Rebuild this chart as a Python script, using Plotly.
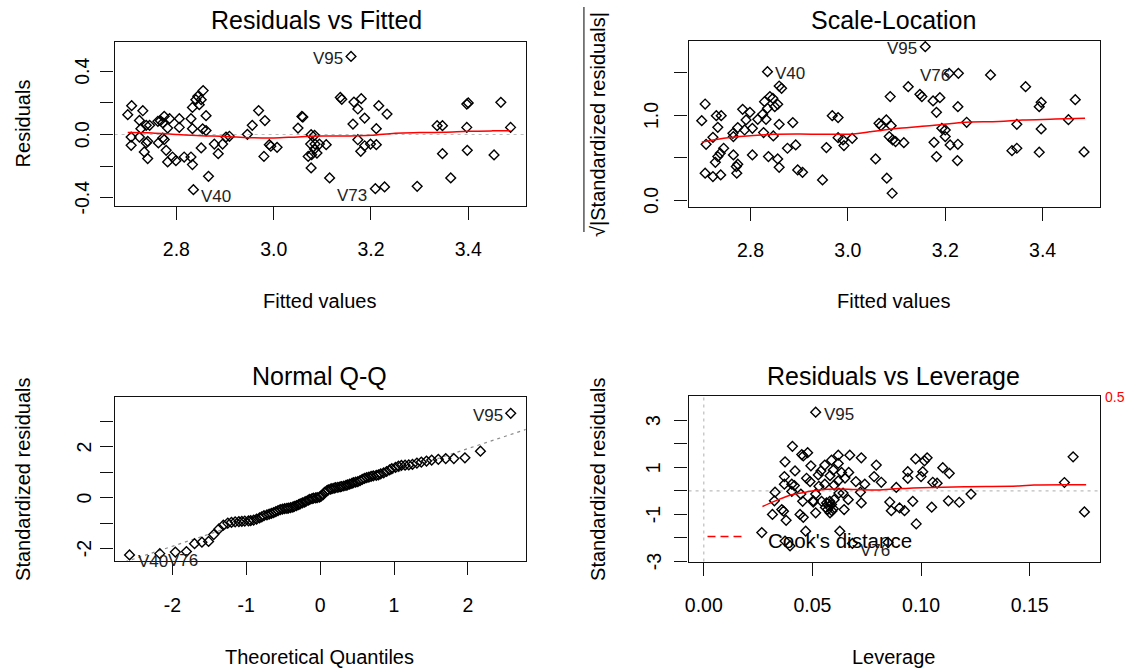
import plotly.graph_objects as go

W, H = 1134, 670
FONT = "Liberation Sans, Arial, sans-serif"

# ---------------- Residuals vs Fitted ----------------
rvf_fitted = [2.708, 2.700, 2.731, 2.724, 2.707, 2.707, 2.724, 2.727, 2.738, 2.745,
              2.741, 2.734, 2.741, 2.738, 2.762, 2.767, 2.775, 2.772, 2.786, 2.782,
              2.772, 2.775, 2.763, 2.779, 2.782, 2.792, 2.799, 2.806, 2.806, 2.816,
              2.830, 2.833, 2.830, 2.833, 2.833, 2.840, 2.844, 2.851, 2.847, 2.855,
              2.861, 2.854, 2.861, 2.851, 2.866, 2.835, 2.878, 2.886, 2.895, 2.902,
              2.909, 2.946, 2.956, 2.969, 2.982, 2.991, 2.994, 3.007, 2.980,
              3.159, 3.050, 3.058, 3.060, 3.077, 3.084, 3.076, 3.085, 3.094, 3.084,
              3.078, 3.089, 3.108, 3.071, 3.077, 3.115, 3.137, 3.140, 3.165, 3.180,
              3.173, 3.187, 3.163, 3.173, 3.179, 3.187, 3.199, 3.211, 3.211, 3.216,
              3.233, 3.209, 3.228, 3.295, 3.336, 3.347, 3.347, 3.364, 3.397, 3.400,
              3.397, 3.398, 3.453, 3.467, 3.487]
rvf_resid = [0.182, 0.125, 0.150, 0.089, -0.016, -0.068, -0.016, 0.037, 0.058, 0.058,
             -0.043, -0.110, -0.152, -0.053, 0.083, 0.087, 0.115, 0.073, 0.100, 0.041,
             -0.022, -0.032, -0.053, -0.100, -0.173, -0.142, -0.165, 0.100, 0.045, -0.142,
             0.100, 0.037, -0.142, -0.190, 0.171, 0.220, 0.241, 0.220, 0.188, 0.277,
             0.119, 0.036, 0.025, -0.085, -0.264, -0.348, -0.060, -0.121, -0.060, -0.016,
             -0.011, 0.001, 0.058, 0.151, 0.088, -0.064, -0.074, -0.081, -0.138,
             0.493, 0.041, 0.114, 0.110, -0.001, -0.005, -0.060, -0.060, -0.060, -0.092,
             -0.127, -0.117, -0.064, -0.138, -0.211, -0.274, 0.234, 0.222, 0.205, 0.226,
             0.161, 0.104, 0.066, -0.033, -0.106, -0.071, -0.060, -0.064, 0.037, 0.182,
             0.129, -0.342, -0.331, -0.327, 0.056, 0.056, -0.121, -0.274, 0.192, 0.199,
             0.045, -0.100, -0.129, 0.203, 0.045]
rvf_smooth_x = [2.700, 2.750, 2.800, 2.850, 2.900, 2.950, 3.000, 3.050, 3.100, 3.150,
                3.200, 3.250, 3.300, 3.350, 3.400, 3.450, 3.487]
rvf_smooth_y = [0.012, 0.010, 0.000, -0.008, -0.012, -0.020, -0.022, -0.015, -0.010, -0.009,
                -0.005, 0.008, 0.012, 0.014, 0.020, 0.023, 0.024]
rvf_ids = [("V95", 3.159, 0.493), ("V40", 2.835, -0.348), ("V73", 3.209, -0.342)]

# ---------------- Scale-Location ----------------
sl_fitted = [2.835, 2.707, 2.700, 2.730, 2.740, 2.733, 2.723, 2.709, 2.745, 2.738,
             2.733, 2.728, 2.707, 2.723, 2.739, 2.765, 2.764, 2.774, 2.784, 2.799,
             2.791, 2.788, 2.804, 2.765, 2.774, 2.771, 2.772, 2.804, 2.815, 2.825,
             2.829, 2.835, 2.840, 2.846, 2.850, 2.856, 2.859, 2.864, 2.832, 2.827,
             2.847, 2.859, 2.837, 2.856, 2.859, 2.876, 2.887, 2.893, 2.897, 2.907,
             2.948, 2.956, 2.968, 2.980, 2.980, 2.990, 2.992, 3.009,
             3.057, 3.080, 3.091, 3.087, 3.124, 3.148, 3.152, 3.175, 3.189, 3.182,
             3.226, 3.244, 3.064, 3.068, 3.079, 3.089, 3.085, 3.092, 3.098, 3.115,
             3.177, 3.193, 3.200, 3.200, 3.210, 3.226, 3.182, 3.225, 3.159, 3.208,
             3.227, 3.293, 3.365, 3.397, 3.393, 3.347, 3.397, 3.337, 3.347, 3.393,
             3.467, 3.453, 3.485]
sl_sqrt_std = [1.514, 1.133, 0.937, 0.996, 0.996, 0.859, 0.741, 0.659, 0.612, 0.553,
               0.514, 0.447, 0.318, 0.278, 0.298, 0.749, 0.788, 0.855, 1.071, 1.035,
               0.945, 0.827, 0.847, 0.533, 0.424, 0.396, 0.318, 0.533, 0.953, 1.012,
               1.161, 1.082, 1.220, 1.200, 1.102, 1.129, 1.345, 1.318, 0.953, 0.796,
               0.757, 0.894, 0.514, 0.486, 0.388, 0.612, 0.914, 0.651, 0.357, 0.329,
               0.239, 0.620, 0.996, 0.973, 0.737, 0.710, 0.643, 0.729,
               0.486, 0.259, 0.082, 1.220, 1.337, 1.247, 1.220, 1.169, 1.208, 1.035,
               1.102, 0.918, 0.906, 0.878, 0.945, 0.878, 0.749, 0.710, 0.690, 0.678,
               0.682, 0.847, 0.827, 0.749, 0.651, 0.659, 0.514, 0.467, 1.808, 1.494,
               1.494, 1.475, 1.337, 1.153, 1.102, 0.894, 0.839, 0.584, 0.612, 0.565,
               1.184, 0.949, 0.569]
sl_smooth_x = [2.700, 2.745, 2.800, 2.847, 2.902, 2.949, 3.011, 3.045, 3.105, 3.173,
               3.235, 3.310, 3.358, 3.426, 3.487]
sl_smooth_y = [0.684, 0.731, 0.760, 0.776, 0.779, 0.776, 0.780, 0.806, 0.847, 0.880,
               0.916, 0.927, 0.944, 0.955, 0.966]
sl_ids = [("V95", 3.159, 1.808), ("V40", 2.835, 1.514), ("V76", 3.227, 1.494)]

# ---------------- Normal Q-Q ----------------
qq_theoretical = [-2.58, -2.17, -1.96, -1.81, -1.70, -1.60, -1.51, -1.44, -1.37, -1.31,
                  -1.25, -1.20, -1.15, -1.10, -1.06, -1.02, -0.97, -0.94, -0.90, -0.86,
                  -0.82, -0.79, -0.76, -0.72, -0.69, -0.66, -0.63, -0.60, -0.57, -0.54,
                  -0.51, -0.48, -0.45, -0.43, -0.40, -0.37, -0.35, -0.32, -0.29, -0.27,
                  -0.24, -0.21, -0.19, -0.16, -0.14, -0.11, -0.09, -0.06, -0.04, -0.01,
                  0.01, 0.04, 0.06, 0.09, 0.11, 0.14, 0.16, 0.19, 0.21, 0.24,
                  0.27, 0.29, 0.32, 0.35, 0.37, 0.40, 0.43, 0.45, 0.48, 0.51,
                  0.54, 0.57, 0.60, 0.63, 0.66, 0.69, 0.72, 0.76, 0.79, 0.82,
                  0.86, 0.90, 0.94, 0.97, 1.02, 1.06, 1.10, 1.15, 1.20, 1.25,
                  1.31, 1.37, 1.44, 1.51, 1.60, 1.70, 1.81, 1.96, 2.17, 2.58]
qq_std = [-2.25, -2.20, -2.14, -2.12, -1.81, -1.75, -1.72, -1.45, -1.23, -1.08,
          -1.00, -0.97, -0.95, -0.94, -0.93, -0.92, -0.91, -0.90, -0.88, -0.84,
          -0.79, -0.75, -0.71, -0.68, -0.65, -0.62, -0.59, -0.55, -0.51, -0.47,
          -0.45, -0.43, -0.42, -0.41, -0.39, -0.37, -0.34, -0.31, -0.27, -0.24,
          -0.20, -0.17, -0.14, -0.10, -0.07, -0.04, -0.02, -0.01, 0.00, 0.02,
          0.05, 0.12, 0.21, 0.27, 0.31, 0.34, 0.36, 0.38, 0.40, 0.41,
          0.43, 0.44, 0.46, 0.48, 0.50, 0.53, 0.56, 0.59, 0.61, 0.63,
          0.67, 0.72, 0.76, 0.79, 0.81, 0.84, 0.86, 0.88, 0.90, 0.94,
          0.98, 1.03, 1.09, 1.14, 1.19, 1.24, 1.27, 1.28, 1.29, 1.31,
          1.36, 1.40, 1.44, 1.48, 1.51, 1.54, 1.54, 1.57, 1.83, 3.32]
qq_line_intercept = 0.01
qq_line_slope = 0.96
qq_ids = [("V95", 2.58, 3.32), ("V40", -2.58, -2.25), ("V76", -2.17, -2.20)]

# ---------------- Residuals vs Leverage ----------------
lev_h = [0.0515, 0.0408, 0.0374, 0.0371, 0.0420, 0.0371, 0.0405, 0.0417, 0.0405, 0.0328,
         0.0325, 0.0359, 0.0367, 0.0379, 0.0316, 0.0267, 0.0451, 0.0458, 0.0478, 0.0493,
         0.0473, 0.0489, 0.0447, 0.0455, 0.0443, 0.0458, 0.0469, 0.0504, 0.0515, 0.0527,
         0.0539, 0.0557, 0.0588, 0.0619, 0.0672, 0.0619, 0.0596, 0.0581, 0.0634, 0.0667,
         0.0557, 0.0619, 0.0622, 0.0641, 0.0580, 0.0565, 0.0588, 0.0576, 0.0570, 0.0596,
         0.0581, 0.0600, 0.0542, 0.0515, 0.0504, 0.0646, 0.0665, 0.0725, 0.0721, 0.0725,
         0.0741, 0.0784, 0.0794, 0.0817, 0.0856, 0.0863, 0.0886, 0.0901, 0.0924, 0.0939,
         0.0939, 0.0962, 0.0975, 0.0978, 0.1008, 0.1016, 0.1028, 0.1000, 0.1049, 0.1054,
         0.1074, 0.1100, 0.1126, 0.1130, 0.0626, 0.0374, 0.0397, 0.0848, 0.0684, 0.1176,
         0.1230, 0.1660, 0.1700, 0.1752, 0.0530, 0.0600, 0.0650, 0.0700, 0.0560, 0.0590]
lev_std = [3.35, 1.90, 1.24, 0.61, 0.85, 0.29, 0.29, 0.23, -0.02, -0.05,
           -0.42, -0.79, -0.86, -1.25, -1.00, -1.77, 1.55, 1.49, 1.63, 1.07,
           0.54, 0.40, -0.13, -0.44, -1.00, -1.12, -1.71, -0.42, -0.13, 0.68,
           0.85, 1.10, 1.31, 1.52, 1.52, 1.17, 0.89, 0.65, 0.79, 0.79,
           0.29, 0.43, -0.09, -0.09, -0.44, -0.51, -0.58, -0.65, -0.79, -0.76,
           -0.93, -0.37, -0.44, -0.93, -0.47, -0.79, -0.37, 1.41, -0.05, -0.51,
           0.29, 0.61, 1.10, 0.37, -0.47, -0.84, 0.15, -0.72, -0.84, 0.82,
           0.54, -0.44, 1.36, -1.40, 0.82, 1.28, 1.41, 0.61, -0.69, 0.37,
           0.33, 0.99, -0.42, 0.75, -1.71, -2.13, -2.34, -2.19, -2.23, -0.48,
           -0.13, 0.36, 1.45, -0.89, 0.20, 0.25, 0.55, 0.40, -0.70, -0.85]
lev_smooth_x = [0.027, 0.033, 0.040, 0.047, 0.051, 0.060, 0.070, 0.080, 0.090, 0.105,
                0.120, 0.145, 0.152, 0.176]
lev_smooth_y = [-0.66, -0.42, -0.17, -0.05, 0.02, 0.08, 0.06, 0.04, 0.10, 0.15,
                0.18, 0.21, 0.25, 0.26]
lev_ids = [("V95", 0.0515, 3.35), ("V76", 0.0684, -2.23)]

# y-axis ticks and which of them carry a label
rvf_yticks = [-0.4, -0.2, 0.0, 0.2, 0.4]
rvf_ylabels = ["-0.4", "", "0.0", "", "0.4"]
sl_yticks = [0.0, 0.5, 1.0, 1.5]
sl_ylabels = ["0.0", "", "1.0", ""]
qq_yticks = [-2, -1, 0, 1, 2, 3]
qq_ylabels = ["-2", "", "0", "", "2", ""]
lev_yticks = [-3, -2, -1, 0, 1, 2, 3]
lev_ylabels = ["-3", "", "-1", "", "1", "", "3"]

# ---------------- layout helpers ----------------
def dom_x(left, right):
    return [left / W, right / W]


def dom_y(top, bottom):
    return [1 - bottom / H, 1 - top / H]


def px(x):
    return x / W


def py(y):
    return 1 - y / H


TICK_FONT = dict(family=FONT, size=19.5, color="black")
LAB_FONT = dict(family=FONT, size=20, color="black")
TITLE_FONT = dict(family=FONT, size=25, color="black")
ID_FONT = dict(family=FONT, size=17, color="#222222")


def base_axis(domain, rng, tickvals, ticktext=None, vertical=False):
    ax = dict(domain=domain, range=rng, tickvals=tickvals,
              showline=True, mirror=True, linecolor="#111111", linewidth=1.4,
              ticks="outside", ticklen=13, tickwidth=1.2, tickcolor="#111111",
              showgrid=False, zeroline=False, tickfont=TICK_FONT, fixedrange=True)
    if vertical:
        # vertical labels are placed as rotated annotations further below
        ax["showticklabels"] = False
    else:
        ax["ticktext"] = ticktext
        ax["ticklabelstandoff"] = 13
    return ax


MARKER = dict(symbol="diamond-open", size=7.5, color="black", line=dict(color="black", width=1.4))

fig = go.Figure()

# scatter points and smoothers
fig.add_trace(go.Scatter(x=rvf_fitted, y=rvf_resid, mode="markers", marker=MARKER,
                         xaxis="x", yaxis="y", cliponaxis=False))
fig.add_trace(go.Scatter(x=rvf_smooth_x, y=rvf_smooth_y, mode="lines",
                         line=dict(color="red", width=1.5, shape="spline"), xaxis="x", yaxis="y"))

fig.add_trace(go.Scatter(x=sl_fitted, y=sl_sqrt_std, mode="markers", marker=MARKER,
                         xaxis="x2", yaxis="y2", cliponaxis=False))
fig.add_trace(go.Scatter(x=sl_smooth_x, y=sl_smooth_y, mode="lines",
                         line=dict(color="red", width=1.5, shape="spline"), xaxis="x2", yaxis="y2"))

qq_line_x = [-3.0, 3.0]
qq_line_y = [qq_line_intercept + qq_line_slope * v for v in qq_line_x]
fig.add_trace(go.Scatter(x=qq_line_x, y=qq_line_y, mode="lines",
                         line=dict(color="#8a8a8a", width=1.2, dash="3px,4px"),
                         xaxis="x3", yaxis="y3"))
fig.add_trace(go.Scatter(x=qq_theoretical, y=qq_std, mode="markers", marker=MARKER,
                         xaxis="x3", yaxis="y3", cliponaxis=False))

fig.add_trace(go.Scatter(x=lev_h, y=lev_std, mode="markers", marker=MARKER,
                         xaxis="x4", yaxis="y4", cliponaxis=False))
fig.add_trace(go.Scatter(x=lev_smooth_x, y=lev_smooth_y, mode="lines",
                         line=dict(color="red", width=1.5, shape="spline"), xaxis="x4", yaxis="y4"))

# panel boxes (pixels)
P1 = dict(x=(111, 523.5), y=(41.5, 205.5))
P2 = dict(x=(687, 1099.5), y=(41, 206.5))
P3 = dict(x=(111, 523.5), y=(396.5, 561))
P4 = dict(x=(687, 1099.5), y=(395.5, 561.5))

fig.update_layout(
    width=W, height=H, margin=dict(l=0, r=0, t=0, b=0),
    paper_bgcolor="white", plot_bgcolor="white", showlegend=False,
    xaxis=base_axis(dom_x(*P1["x"]), [2.673, 3.518], [2.8, 3.0, 3.2, 3.4],
                    ["2.8", "3.0", "3.2", "3.4"]),
    yaxis=base_axis(dom_y(*P1["y"]), [-0.448, 0.587], rvf_yticks, vertical=True),
    xaxis2=base_axis(dom_x(*P2["x"]), [2.673, 3.517], [2.8, 3.0, 3.2, 3.4],
                     ["2.8", "3.0", "3.2", "3.4"]),
    yaxis2=base_axis(dom_y(*P2["y"]), [-0.074, 1.875], sl_yticks, vertical=True),
    xaxis3=base_axis(dom_x(*P3["x"]), [-2.782, 2.782], [-2, -1, 0, 1, 2],
                     ["-2", "-1", "0", "1", "2"]),
    yaxis3=base_axis(dom_y(*P3["y"]), [-2.49, 3.98], qq_yticks, vertical=True),
    xaxis4=base_axis(dom_x(*P4["x"]), [-0.007, 0.1822], [0.0, 0.05, 0.10, 0.15],
                     ["0.00", "0.05", "0.10", "0.15"]),
    yaxis4=base_axis(dom_y(*P4["y"]), [-3.0, 4.06], lev_yticks, vertical=True),
)
for i in (1, 2, 3, 4):
    sfx = "" if i == 1 else str(i)
    fig.layout["xaxis" + sfx].anchor = "y" + sfx
    fig.layout["yaxis" + sfx].anchor = "x" + sfx

shapes = []
# zero reference lines
shapes.append(dict(type="line", xref="x domain", yref="y", x0=0, x1=1, y0=0, y1=0,
                   line=dict(color="#bdbdbd", width=1.2, dash="3px,4px"), layer="below"))
shapes.append(dict(type="line", xref="x4 domain", yref="y4", x0=0, x1=1, y0=0, y1=0,
                   line=dict(color="#bdbdbd", width=1.2, dash="3px,4px"), layer="below"))
shapes.append(dict(type="line", xref="x4", yref="y4 domain", x0=0, x1=0, y0=0, y1=1,
                   line=dict(color="#bdbdbd", width=1.2, dash="3px,4px"), layer="below"))
# Cook's distance legend key
shapes.append(dict(type="line", xref="paper", yref="paper", x0=px(706), x1=px(741),
                   y0=py(536.5), y1=py(536.5), line=dict(color="red", width=1.5, dash="8px,5px")))
# radical overbar of the sqrt label
shapes.append(dict(type="line", xref="paper", yref="paper", x0=px(582), x1=px(582),
                   y0=py(7), y1=py(232), line=dict(color="black", width=1)))

ann = []


def add_text(text, x, y, font, angle=0, xanchor="center", yanchor="middle"):
    ann.append(dict(text=text, x=px(x), y=py(y), xref="paper", yref="paper",
                    showarrow=False, font=font, textangle=angle,
                    xanchor=xanchor, yanchor=yanchor))


def add_ytick_labels(ticks, labels, yref, x_center):
    for v, t in zip(ticks, labels):
        if t:
            ann.append(dict(text=t, x=px(x_center), y=v, xref="paper", yref=yref,
                            showarrow=False, font=TICK_FONT, textangle=-90,
                            xanchor="center", yanchor="middle"))


add_ytick_labels(rvf_yticks, rvf_ylabels, "y", 78)
add_ytick_labels(sl_yticks, sl_ylabels, "y2", 650)
add_ytick_labels(qq_yticks, qq_ylabels, "y3", 80)
add_ytick_labels(lev_yticks, lev_ylabels, "y4", 652)

# panel titles
add_text("Residuals vs Fitted", 314, 20, TITLE_FONT)
add_text("Scale-Location", 893, 20, TITLE_FONT)
add_text("Normal Q-Q", 317, 376, TITLE_FONT)
add_text("Residuals vs Leverage", 893, 376, TITLE_FONT)
# axis titles
add_text("Fitted values", 317, 301, LAB_FONT)
add_text("Fitted values", 893, 301, LAB_FONT)
add_text("Theoretical Quantiles", 317, 657, LAB_FONT)
add_text("Leverage", 893, 657, LAB_FONT)
add_text("Residuals", 20, 123.5, LAB_FONT, angle=-90)
add_text("√|Standardized residuals|", 596, 124, LAB_FONT, angle=-90)
add_text("Standardized residuals", 19, 479, LAB_FONT, angle=-90)
add_text("Standardized residuals", 596, 479, LAB_FONT, angle=-90)
# Cook's distance legend text and contour label
add_text("Cook's distance", 765, 540, dict(family=FONT, size=20.5, color="black"), xanchor="left")
add_text("0.5", 1103, 397, dict(family=FONT, size=14, color="red"), xanchor="left")


def add_ids(ids, xref, yref, mid):
    for name, x, y in ids:
        right = x > mid
        ann.append(dict(text=name, x=x, y=y, xref=xref, yref=yref, showarrow=False,
                        font=ID_FONT, xanchor="right" if right else "left",
                        yanchor="middle", xshift=-6 if right else 6,
                        yshift=-7 if y < 0 else -2))


add_ids(rvf_ids, "x", "y", 3.095)
add_ids(sl_ids, "x2", "y2", 3.095)
add_ids(qq_ids, "x3", "y3", 0.0)
add_ids(lev_ids, "x4", "y4", 0.0911)

fig.update_layout(annotations=ann, shapes=shapes)
fig.write_html("out.html")
